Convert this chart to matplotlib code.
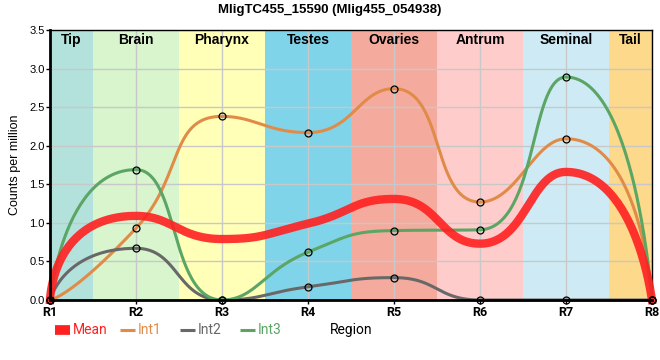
import matplotlib
matplotlib.use("Agg")
import matplotlib.pyplot as plt
import numpy as np
from matplotlib.lines import Line2D


REGIONS = ["R1", "R2", "R3", "R4", "R5", "R6", "R7", "R8"]
TISSUES = ["Tip", "Brain", "Pharynx", "Testes", "Ovaries", "Antrum", "Seminal", "Tail"]
TISSUE_COLORS = ["#b3e2dc", "#d8f5ce", "#ffffb8", "#80d4ea", "#f4ab9e", "#ffcccc", "#ceebf5", "#fdd98b"]

INT1 = [0.0, 0.93, 2.38, 2.17, 2.74, 1.27, 2.09, 0.0]
INT2 = [0.0, 0.67, 0.0, 0.17, 0.29, 0.0, 0.0, 0.0]
INT3 = [0.0, 1.69, 0.0, 0.62, 0.90, 0.91, 2.89, 0.0]
MEAN = [0.0, 1.09, 0.79, 0.99, 1.31, 0.73, 1.66, 0.0]

COLORS = {"Mean": "#ff2020", "Int1": "#e08c48", "Int2": "#686868", "Int3": "#5ba565"}

# pixels per data unit, used only to weight the smoothing like the original renderer
SX, SY = 601 / 7, 270 / 3.5


def clamp(v, a, b):
    return max(min(v, max(a, b)), min(a, b))


def smooth_path(y, smooth=0.5, first_stretch=1.7, last_stretch=1.4, n=60):
    # bezier smoothing, control points kept between neighbouring points
    xs = np.arange(len(y), dtype=float)
    ys = np.asarray(y, dtype=float)
    k = len(ys)
    segs = []
    cp0 = (xs[0], ys[0])
    for i in range(1, k):
        x, yy = xs[i], ys[i]
        px, py = xs[i - 1], ys[i - 1]
        if i == k - 1:
            cp1 = (x, yy)
            nxt = None
        else:
            nx, ny = xs[i + 1], ys[i + 1]
            vx, vy = nx - px, ny - py
            lp = np.hypot((x - px) * SX, (yy - py) * SY)
            ln = np.hypot((nx - x) * SX, (ny - yy) * SY)
            r = ln / (ln + lp)
            ncx = clamp(x + vx * smooth * r, nx, x)
            ncy = clamp(yy + vy * smooth * r, ny, yy)
            vx, vy = ncx - x, ncy - yy
            c1x = clamp(x - vx * lp / ln, px, x)
            c1y = clamp(yy - vy * lp / ln, py, yy)
            vx, vy = x - c1x, yy - c1y
            nxt = (x + vx * ln / lp, yy + vy * ln / lp)
            cp1 = (c1x, c1y)
            if i == 1:
                # the segment leaving the first point bends harder
                cp1 = (clamp(x - first_stretch * vx, px, x), clamp(yy - first_stretch * vy, py, yy))
            if i == k - 2:
                nxt = (clamp(x + last_stretch * (nxt[0] - x), nx, x),
                       clamp(yy + last_stretch * (nxt[1] - yy), ny, yy))
        segs.append(((px, py), cp0, cp1, (x, yy)))
        cp0 = nxt
    t = np.linspace(0, 1, n)[:, None]
    out = []
    for p0, p1, p2, p3 in segs:
        p0, p1, p2, p3 = map(np.array, (p0, p1, p2, p3))
        out.append((1 - t) ** 3 * p0 + 3 * (1 - t) ** 2 * t * p1 + 3 * (1 - t) * t ** 2 * p2 + t ** 3 * p3)
    pts = np.vstack(out)
    return pts[:, 0], pts[:, 1]


fig = plt.figure(figsize=(6.6, 3.6), dpi=100)
ax = fig.add_axes([0.0758, 0.1667, 0.912, 0.75])

n = len(REGIONS)
edges = [0] + [i + 0.5 for i in range(n - 1)] + [n - 1]
for i, (name, col) in enumerate(zip(TISSUES, TISSUE_COLORS)):
    ax.axvspan(edges[i], edges[i + 1], color=col, lw=0, zorder=0)
    ax.text((edges[i] + edges[i + 1]) / 2, 3.37, name, ha="center", va="center",
            fontsize=10, fontweight="bold", family="Liberation Sans", zorder=7)

ax.grid(True, color="#c8c8c8", lw=1, zorder=1)
ax.set_axisbelow(True)

for name, vals in [("Int1", INT1), ("Int2", INT2), ("Int3", INT3)]:
    cx, cy = smooth_path(vals)
    ax.plot(cx, cy, color=COLORS[name], lw=2.2, zorder=4, clip_on=False)
    ax.plot(range(n), vals, "o", ms=5, mfc="none", mec="black", mew=0.9, zorder=6, clip_on=False)

mx, my = smooth_path(MEAN)
ax.plot(mx, my, color=COLORS["Mean"], lw=6, alpha=0.9, zorder=5, clip_on=False)

ax.set_xlim(0, n - 1)
ax.set_ylim(0, 3.5)
ax.set_xticks(range(n))
ax.set_xticklabels(REGIONS, fontsize=9, fontweight="bold", family="Roboto")
ax.set_yticks(np.arange(0, 3.51, 0.5))
ax.set_yticklabels([f"{v:.1f}" for v in np.arange(0, 3.51, 0.5)], fontsize=8, family="Liberation Sans")
ax.tick_params(length=3, width=1, color="black", pad=1)
ax.set_ylabel("Counts per million", fontsize=9, family="Liberation Sans", labelpad=6)

for side in ["top", "right"]:
    ax.spines[side].set_linewidth(1)
for side in ["left", "bottom"]:
    ax.spines[side].set_linewidth(2)
    ax.spines[side].set_zorder(8)

fig.text(0.5, 0.972, "MligTC455_15590 (Mlig455_054938)", ha="center", va="center",
         fontsize=9.5, fontweight="bold", family="Liberation Sans")

# legend row along the bottom, laid out in figure pixels
W, H = 660, 360
legend_y = 1 - 330 / H
items = [("Mean", 55, 7), ("Int1", 120, 2.2), ("Int2", 180, 2.2), ("Int3", 240, 2.2)]
for name, x0, lw in items:
    fig.add_artist(Line2D([x0 / W, (x0 + 15) / W], [legend_y, legend_y],
                          color=COLORS[name], lw=lw, solid_capstyle="butt"))
    fig.text((x0 + 18) / W, legend_y, name, ha="left", va="center", fontsize=10,
             family="Roboto", color=COLORS[name])

fig.text(351 / W, legend_y, "Region", ha="center", va="center", fontsize=10, family="Roboto")

fig.savefig("out.png", dpi=100)
